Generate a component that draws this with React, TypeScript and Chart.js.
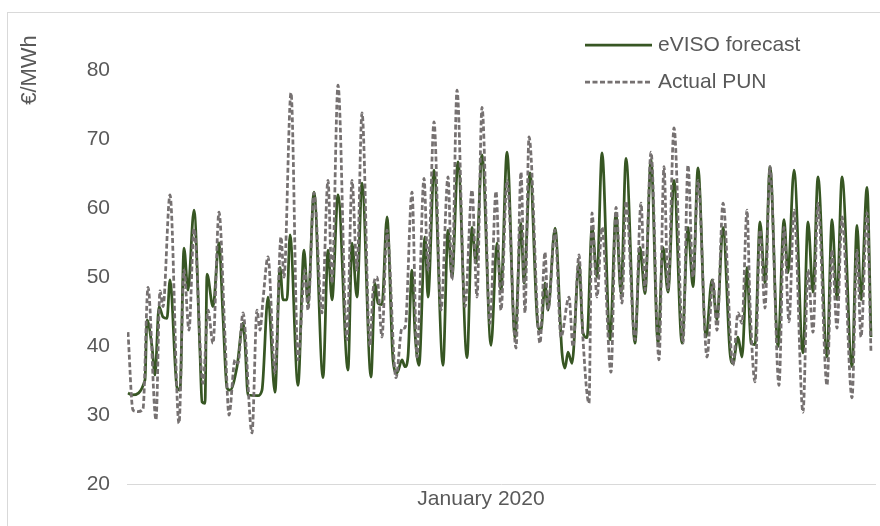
import { useEffect, useRef } from 'react';
import { Chart, registerables } from 'chart.js';

Chart.register(...registerables);

// Hour of the month (1..744) and price in €/MWh
const forecastHours = [
  1, 5, 18, 20, 25, 28, 32, 36, 40, 43, 50, 53, 57, 61, 67, 73, 75, 78, 80, 86, 92, 96, 100, 103, 110, 116,
  118, 121, 131, 135, 141, 148, 153, 156, 160, 163, 171, 177, 181, 187, 196, 201, 205, 211, 221, 225, 230, 235,
  244, 248, 251, 255, 260, 266, 270, 275, 278, 281, 285, 288, 292, 298, 301, 307, 316, 321, 325, 331, 340, 345,
  349, 355, 364, 370, 374, 380, 388, 394, 397, 403, 411, 414, 418, 421, 428, 435, 438, 441, 445, 452, 456, 460,
  465, 470, 475, 483, 489, 494, 499, 508, 513, 518, 524, 531, 536, 541, 547, 555, 561, 566, 571, 579, 585, 590,
  596, 603, 606, 611, 615, 620, 624, 628, 633, 638, 643, 651, 657, 661, 667, 676, 681, 686, 691, 700, 705, 710,
  715, 725, 730, 734, 740, 744,
];
const forecastPrice = [
  33.2, 32.9, 35.1, 43.8, 39.9, 35.8, 45.7, 44.2, 44.0, 49.6, 34.0, 33.6, 54.2, 48.1, 59.7, 39.0, 31.9, 31.7, 50.4, 45.7, 55.0, 44.2, 33.9, 33.6, 37.0, 43.3,
  40.4, 32.9, 32.8, 33.6, 47.1, 33.3, 51.4, 46.7, 46.7, 56.1, 34.3, 53.9, 46.2, 62.3, 35.4, 53.9, 46.7, 61.9, 36.5, 54.9, 47.1, 63.6,
  35.5, 49.1, 46.2, 46.0, 58.7, 38.0, 36.1, 38.0, 37.0, 38.5, 51.0, 41.9, 37.2, 55.8, 47.1, 65.5, 37.2, 56.8, 50.0, 66.7, 38.3, 57.2,
  52.0, 67.7, 40.1, 54.9, 48.0, 68.1, 41.2, 57.8, 49.1, 65.1, 42.8, 42.3, 49.1, 45.2, 57.1, 39.0, 36.8, 39.1, 37.5, 52.0, 41.9, 41.2,
  57.2, 50.0, 68.0, 40.9, 59.3, 47.6, 67.2, 40.4, 54.3, 47.6, 67.0, 40.4, 54.3, 47.8, 64.0, 40.4, 57.2, 48.6, 65.8, 41.3, 49.6, 43.8,
  57.2, 39.0, 37.5, 41.3, 38.4, 51.4, 40.4, 40.2, 58.0, 49.1, 66.0, 39.9, 58.3, 50.6, 65.5, 39.0, 58.0, 47.8, 64.5, 38.4, 58.3, 46.7,
  64.5, 37.0, 57.5, 46.7, 63.0, 41.3,
];

const actualHours = [
  1, 6, 11, 16, 21, 29, 33, 36, 43, 52, 57, 62, 67, 76, 81, 86, 92, 98, 102, 108, 111, 116, 125, 130, 133, 136,
  141, 148, 154, 157, 164, 171, 178, 181, 187, 195, 201, 205, 211, 220, 225, 230, 235, 243, 246, 250, 255, 260,
  269, 275, 278, 285, 290, 297, 301, 307, 314, 321, 325, 330, 338, 345, 350, 355, 363, 369, 374, 380, 389, 394,
  398, 402, 413, 418, 421, 428, 434, 442, 446, 452, 456, 462, 465, 470, 475, 484, 489, 495, 499, 508, 514, 518,
  524, 532, 537, 541, 547, 556, 561, 566, 571, 580, 586, 590, 596, 606, 611, 615, 620, 623, 628, 633, 638, 643,
  652, 657, 662, 667, 676, 681, 686, 691, 700, 705, 710, 715, 725, 730, 734, 740, 744,
];
const actualPrice = [
  42.0, 30.7, 30.5, 30.9, 48.5, 29.3, 48.0, 45.7, 61.9, 28.8, 51.0, 42.3, 57.0, 34.6, 45.2, 40.4, 59.4, 41.4, 30.0, 38.0, 37.5, 44.8, 27.4, 45.2, 42.3, 46.7,
  52.9, 36.1, 55.8, 50.0, 76.7, 38.0, 51.0, 45.2, 62.2, 44.8, 64.0, 49.1, 77.8, 40.9, 64.0, 51.0, 73.8, 40.0, 48.0, 50.0, 41.3, 56.8,
  35.4, 42.6, 42.6, 62.3, 38.4, 64.3, 51.0, 72.5, 45.2, 64.5, 49.6, 77.1, 45.7, 62.6, 47.1, 74.6, 43.3, 62.4, 45.2, 64.0, 39.7, 65.2,
  44.8, 70.3, 40.4, 53.6, 45.2, 56.8, 41.3, 47.1, 39.9, 53.2, 41.0, 31.7, 59.3, 47.1, 57.2, 36.2, 60.1, 46.2, 61.0, 40.9, 60.7, 48.1,
  68.1, 38.0, 66.0, 48.1, 71.6, 40.4, 66.2, 50.0, 64.0, 38.4, 49.6, 42.3, 60.7, 37.2, 44.8, 43.3, 59.7, 46.2, 34.8, 56.8, 45.5, 66.0,
  34.3, 57.2, 43.5, 59.7, 30.4, 51.0, 42.0, 60.7, 34.3, 53.9, 42.6, 58.7, 32.5, 53.9, 41.3, 59.3, 39.0,
];

const seriesNames = ['eVISO forecast', 'Actual PUN'];
const yTickValues = [20, 30, 40, 50, 60, 70, 80];
const xAxisLabel = 'January 2020';
const yAxisLabel = '€/MWh';

const FONT = '"Liberation Sans", Arial, sans-serif';
const TEXT = '#595959';
const GREEN = '#375623';
const GREY = '#767171';
const DASH = [5, 2.5];

const decorPlugin = {
  id: 'decor',
  afterDraw(chart: any) {
    const ctx = chart.ctx as CanvasRenderingContext2D;
    ctx.save();
    // outer frame
    ctx.strokeStyle = '#d9d9d9';
    ctx.lineWidth = 1;
    ctx.strokeRect(7.5, 12.5, 900, 600);

    ctx.fillStyle = TEXT;
    ctx.font = `21px ${FONT}`;
    ctx.textBaseline = 'middle';

    // x axis title
    ctx.textAlign = 'center';
    ctx.fillText(xAxisLabel, 481, 499);

    // y axis title (rotated)
    ctx.save();
    ctx.font = `22px ${FONT}`;
    ctx.translate(30, 70);
    ctx.rotate(-Math.PI / 2);
    ctx.textAlign = 'center';
    ctx.fillText(yAxisLabel, 0, 0);
    ctx.restore();

    // legend
    const rows = [
      { y: 45, color: GREEN, dash: [] as number[] },
      { y: 82, color: GREY, dash: DASH },
    ];
    rows.forEach((r, i) => {
      ctx.beginPath();
      ctx.setLineDash(r.dash);
      ctx.strokeStyle = r.color;
      ctx.lineWidth = 2.75;
      ctx.moveTo(585, r.y);
      ctx.lineTo(652, r.y);
      ctx.stroke();
      ctx.setLineDash([]);
      ctx.textAlign = 'left';
      ctx.fillStyle = TEXT;
      ctx.font = `21px ${FONT}`;
      ctx.fillText(seriesNames[i], 658, r.y);
    });
    ctx.restore();
  },
};

export default function App() {
  const ref = useRef<HTMLCanvasElement | null>(null);

  useEffect(() => {
    if (!ref.current) return;
    const chart = new Chart(ref.current, {
      type: 'line',
      data: {
        datasets: [
          {
            label: seriesNames[1],
            data: actualHours.map((h, i) => ({ x: h, y: actualPrice[i] })),
            borderColor: GREY,
            borderWidth: 2.75,
            borderDash: DASH,
            pointRadius: 0,
            cubicInterpolationMode: 'monotone',
            fill: false,
          },
          {
            label: seriesNames[0],
            data: forecastHours.map((h, i) => ({ x: h, y: forecastPrice[i] })),
            borderColor: GREEN,
            borderWidth: 2.75,
            pointRadius: 0,
            cubicInterpolationMode: 'monotone',
            fill: false,
          },
        ],
      },
      options: {
        animation: false,
        responsive: false,
        events: [],
        layout: { padding: { top: 35.5, right: 5, left: 0, bottom: 0 } },
        plugins: {
          legend: { display: false },
          tooltip: { enabled: false },
        },
        scales: {
          x: {
            type: 'linear',
            min: 0,
            max: 748,
            grid: { display: false },
            ticks: { display: false },
            border: { display: true, color: '#d9d9d9', width: 1 },
            afterFit(scale: any) {
              scale.height = 42;
              scale.paddingLeft = 0;
              scale.paddingRight = 0;
            },
          },
          y: {
            type: 'linear',
            min: 20,
            max: 85,
            grid: { display: false, drawTicks: false },
            border: { display: false },
            ticks: {
              padding: 17,
              color: TEXT,
              font: { family: FONT, size: 21 },
            },
            afterBuildTicks(scale: any) {
              scale.ticks = yTickValues.map((v) => ({ value: v }));
            },
            afterFit(scale: any) {
              scale.width = 127;
              scale.paddingTop = 0;
              scale.paddingBottom = 0;
            },
          },
        },
      } as any,
      plugins: [decorPlugin],
    });
    return () => chart.destroy();
  }, []);

  return (
    <div style={{ position: 'absolute', left: 0, top: 0, width: 880, height: 526, background: '#fff' }}>
      <canvas ref={ref} width={880} height={526} style={{ display: 'block' }} />
    </div>
  );
}
